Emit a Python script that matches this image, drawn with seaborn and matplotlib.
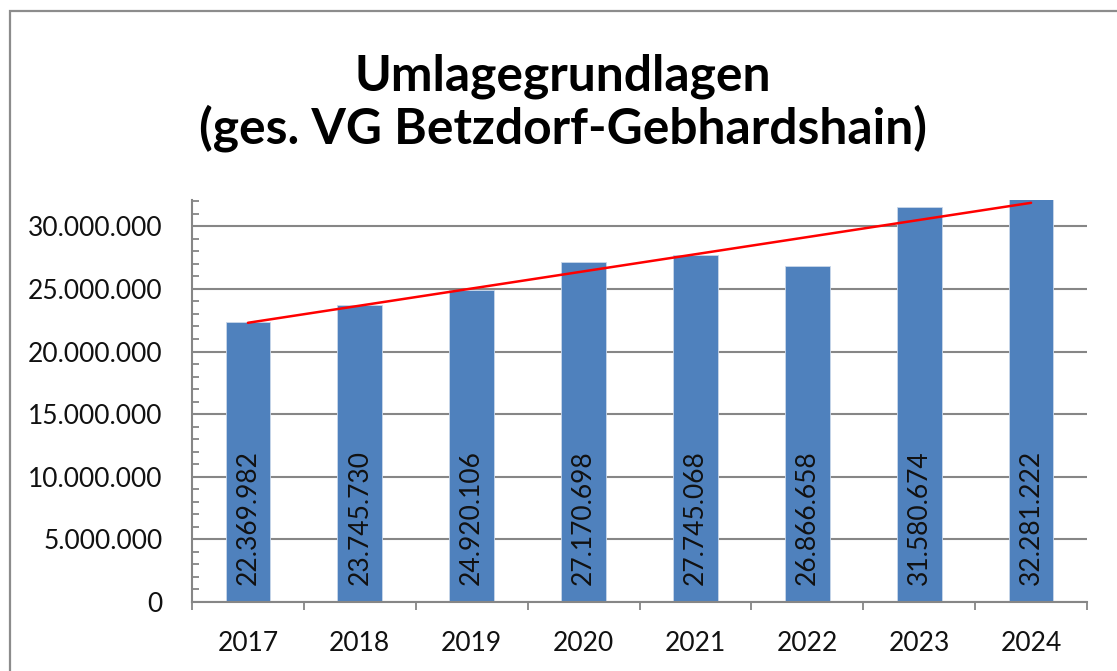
import numpy as np
import pandas as pd
import matplotlib
matplotlib.use("Agg")
import matplotlib.pyplot as plt
from matplotlib.ticker import FuncFormatter, MultipleLocator, FixedLocator
from matplotlib.patches import Rectangle
import seaborn as sns

years = ["2017", "2018", "2019", "2020", "2021", "2022", "2023", "2024"]
values = [22369982, 23745730, 24920106, 27170698, 27745068, 26866658, 31580674, 32281222]
title_lines = ["Umlagegrundlagen", "(ges. VG Betzdorf-Gebhardshain)"]

sns.set_theme(style="white")
plt.rcParams['font.family'] = ['Lato', 'DejaVu Sans']

W, H = 1117, 671
fig = plt.figure(figsize=(W / 100, H / 100), dpi=100)
ax = fig.add_axes([192 / W, 1 - 602 / H, (1087 - 192) / W, (602 - 200) / H])

df = pd.DataFrame({"year": years, "value": values})
bar_color = "#4F81BD"
grid_color = "#868686"

sns.barplot(data=df, x="year", y="value", color=bar_color, saturation=1,
            width=0.4, ax=ax, zorder=2, edgecolor="#c9d7ea", linewidth=0.6)

# linear trend line
pos = np.arange(len(values))
sns.regplot(x=pos, y=np.array(values, dtype=float), scatter=False, ci=None,
            truncate=True, ax=ax, line_kws=dict(color="#ff0000", lw=1.8, zorder=3))

ax.set_xlim(-0.5, len(values) - 0.5)
ax.set_ylim(0, 32.1e6)
ax.set_xlabel("")
ax.set_ylabel("")

# y axis
ax.yaxis.set_major_locator(MultipleLocator(5e6))
ax.yaxis.set_minor_locator(MultipleLocator(1e6))
ax.yaxis.set_major_formatter(FuncFormatter(lambda v, p: f"{int(round(v)):,}".replace(",", ".")))
ax.tick_params(axis="y", which="both", direction="in", length=5, width=1.3,
               color=grid_color, labelsize=19, pad=21, labelcolor="#111111", left=True)
ax.yaxis.grid(True, which="major", color=grid_color, lw=1.5, zorder=0)
ax.set_axisbelow(True)

# x axis: ticks at category boundaries, labels at centres
ax.xaxis.set_major_locator(FixedLocator(np.arange(-0.5, len(values), 1.0)))
ax.xaxis.set_minor_locator(FixedLocator(pos))
ax.xaxis.set_major_formatter(FuncFormatter(lambda v, p: ""))
ax.xaxis.set_minor_formatter(FuncFormatter(lambda v, p: years[int(round(v))]))
ax.tick_params(axis="x", which="major", direction="out", length=6, width=1.3,
               color=grid_color, bottom=True)
ax.tick_params(axis="x", which="minor", length=0, labelsize=19, pad=21,
               labelcolor="#111111", bottom=True)

for s in ["top", "right"]:
    ax.spines[s].set_visible(False)
for s in ["left", "bottom"]:
    ax.spines[s].set_color(grid_color)
    ax.spines[s].set_linewidth(1.5)

# value labels inside bars
for i, v in enumerate(values):
    ax.annotate(f"{v:,}".replace(",", "."), xy=(i, 0), xytext=(0, 12),
                textcoords="offset points", rotation=90, ha="center", va="bottom",
                fontsize=19, color="#111111", zorder=4)

# title
fig.text(563 / W, 1 - 76 / H, title_lines[0], ha="center", va="center",
         fontsize=35.8, fontweight="bold", color="#000000")
fig.text(563 / W, 1 - 128 / H, title_lines[1], ha="center", va="center",
         fontsize=35.8, fontweight="bold", color="#000000")

# outer frame (cut off at right and bottom)
fig.add_artist(Rectangle((10 / W, -0.05), 1.2, 1 - 11 / H + 0.05,
                         transform=fig.transFigure, fill=False,
                         edgecolor="#8c8c8c", lw=1.6))

fig.savefig("out.png", dpi=100, facecolor="white")
